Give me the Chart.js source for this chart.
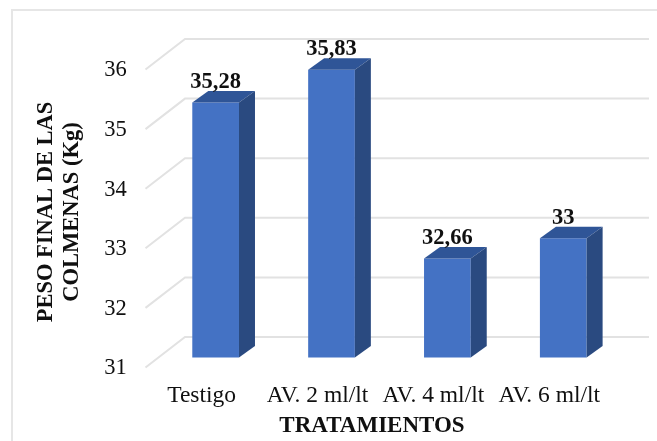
<!DOCTYPE html>
<html>
<head>
<meta charset="utf-8">
<script src="https://cdn.jsdelivr.net/npm/chart.js@4"></script>
<style>
  html, body { margin: 0; padding: 0; background: #fff; }
  canvas { display: block; filter: blur(0.4px); }
</style>
</head>
<body>
<canvas id="pesoChart" width="657" height="441"></canvas>
<script>
// Data
const categories = ['Testigo', 'AV. 2 ml/lt', 'AV. 4 ml/lt', 'AV. 6 ml/lt'];
const pesoFinal = [35.28, 35.83, 32.66, 33];
const yTicks = [31, 32, 33, 34, 35, 36];
const yTitleLines = ['PESO FINAL DE LAS', 'COLMENAS (Kg)'];
const xTitle = 'TRATAMIENTOS';

const SERIF = '"Liberation Serif", "Times New Roman", serif';
const TEXT_COLOR = '#101010';

// Fake 3D look: bars are offset from the back wall and have some depth
const barDepth = { dx: 16, dy: -11.5 };
const wall = { left: 185, right: 649, floorDx: 39.5, frontDy: 10, backDy: -20.5 };

const frame3d = {
  id: 'frame3d',
  // outer frame and back wall grid go behind the bars
  beforeDatasetsDraw(chart) {
    const { ctx, scales: { y } } = chart;
    ctx.save();
    ctx.strokeStyle = '#e6e6e6';
    ctx.lineWidth = 2;
    ctx.beginPath();
    ctx.moveTo(12, 441);
    ctx.lineTo(12, 10);
    ctx.lineTo(657, 10);
    ctx.stroke();

    ctx.strokeStyle = '#e2e2e2';
    y.ticks.forEach(t => {
      const py = y.getPixelForValue(t.value);
      ctx.beginPath();
      ctx.moveTo(wall.left - wall.floorDx, py + wall.frontDy);
      ctx.lineTo(wall.left, py + wall.backDy);
      ctx.lineTo(wall.right, py + wall.backDy);
      ctx.stroke();
    });
    ctx.restore();
  },
  // top and side faces of each bar, then the value labels and axis titles
  afterDatasetsDraw(chart) {
    const { ctx, scales: { y } } = chart;
    const bars = chart.getDatasetMeta(0).data;
    const floor = y.getPixelForValue(y.min);
    ctx.save();
    bars.forEach(bar => {
      const left = bar.x - bar.width / 2;
      const right = bar.x + bar.width / 2;
      ctx.fillStyle = '#2f5597';
      ctx.beginPath();
      ctx.moveTo(left, bar.y);
      ctx.lineTo(left + barDepth.dx, bar.y + barDepth.dy);
      ctx.lineTo(right + barDepth.dx, bar.y + barDepth.dy);
      ctx.lineTo(right, bar.y);
      ctx.closePath();
      ctx.fill();

      ctx.fillStyle = '#2a4a80';
      ctx.beginPath();
      ctx.moveTo(right, bar.y);
      ctx.lineTo(right + barDepth.dx, bar.y + barDepth.dy);
      ctx.lineTo(right + barDepth.dx, floor + barDepth.dy);
      ctx.lineTo(right, floor);
      ctx.closePath();
      ctx.fill();
    });

    ctx.fillStyle = TEXT_COLOR;
    ctx.textAlign = 'center';
    ctx.textBaseline = 'middle';
    ctx.font = 'bold 22.5px ' + SERIF;
    bars.forEach((bar, i) => {
      ctx.fillText(String(pesoFinal[i]).replace('.', ','), bar.x, bar.y - 20);
    });

    ctx.font = 'bold 23px ' + SERIF;
    ctx.fillText(xTitle, 372, 426);

    ctx.font = 'bold 22.5px ' + SERIF;
    ctx.translate(0, 212);
    ctx.rotate(-Math.PI / 2);
    ctx.fillText(yTitleLines[0], 0, 46);
    ctx.fillText(yTitleLines[1], 0, 72);
    ctx.restore();
  }
};

new Chart(document.getElementById('pesoChart'), {
  type: 'bar',
  data: {
    labels: categories,
    datasets: [{
      data: pesoFinal,
      backgroundColor: '#4472c4',
      borderWidth: 0,
      categoryPercentage: 1,
      barPercentage: 0.403
    }]
  },
  options: {
    responsive: false,
    animation: false,
    layout: { padding: { top: 59.5, right: 35.8, bottom: 0, left: 0 } },
    plugins: { legend: { display: false }, tooltip: { enabled: false } },
    scales: {
      x: {
        afterFit: s => { s.height = 83.5; },
        grid: { display: false },
        border: { display: false },
        ticks: {
          color: TEXT_COLOR,
          font: { family: SERIF, size: 23.5 },
          padding: 16,
          labelOffset: -14,
          maxRotation: 0,
          autoSkip: false
        }
      },
      y: {
        min: 31,
        max: 36,
        afterFit: s => { s.width = 157.7; },
        afterBuildTicks: s => { s.ticks = yTicks.map(value => ({ value })); },
        grid: { display: false },
        border: { display: false },
        ticks: {
          color: TEXT_COLOR,
          font: { family: SERIF, size: 22.5 },
          padding: 23,
          labelOffset: 11
        }
      }
    }
  },
  plugins: [frame3d]
});
</script>
</body>
</html>
